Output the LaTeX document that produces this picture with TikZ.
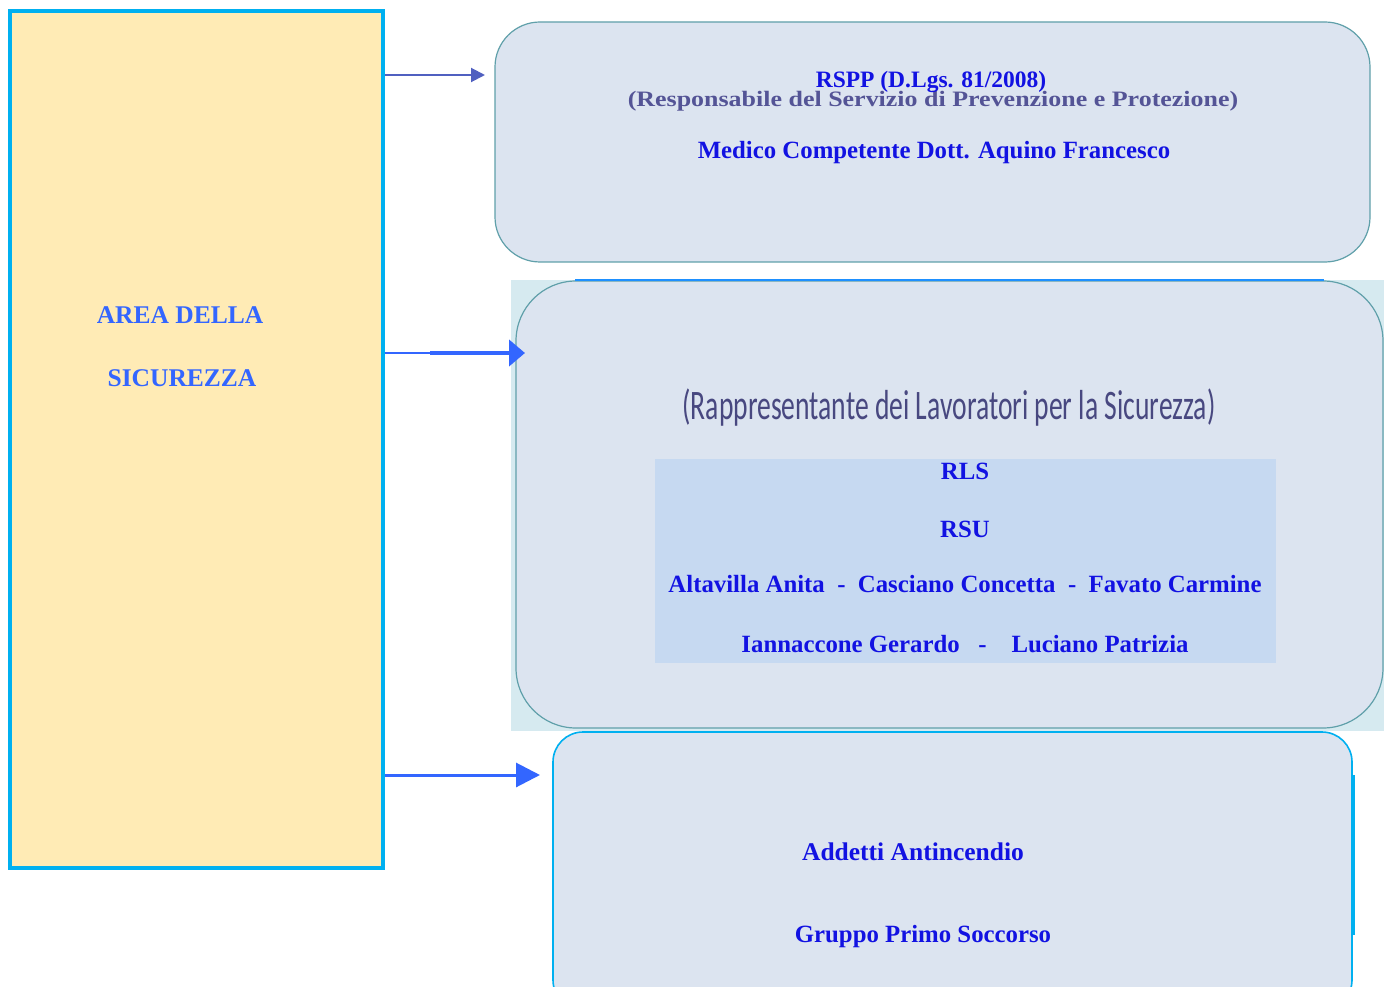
\documentclass[tikz,border=0pt]{standalone}
\usepackage{fontspec}
\setmainfont{Liberation Serif}
\newfontfamily\carl{Carlito}
\usepackage{graphicx}
\usetikzlibrary{arrows.meta}
\definecolor{tblue}{RGB}{18,18,226}
\definecolor{ablue}{RGB}{51,102,255}
\definecolor{slateb}{RGB}{80,96,192}
\definecolor{grayb}{RGB}{84,84,150}
\definecolor{rapc}{RGB}{72,72,128}
\definecolor{boxfill}{RGB}{220,228,240}
\definecolor{innerfill}{RGB}{198,217,241}
\definecolor{midbg}{RGB}{214,234,240}
\definecolor{yel}{RGB}{255,235,181}
\definecolor{cyanb}{RGB}{0,176,240}
\definecolor{tealb}{RGB}{96,160,170}
\definecolor{topblue}{RGB}{30,144,255}
\begin{document}
\begin{tikzpicture}[x=1pt,y=-1pt,
  txt/.style={font=\bfseries\fontsize{24.8}{28}\selectfont, text=tblue, inner sep=0pt},
  areatxt/.style={font=\bfseries\fontsize{25.5}{29}\selectfont, text=ablue, inner sep=0pt},
  rbox/.style={draw=tealb, line width=1.2pt, fill=boxfill},
  arrA/.style={-{Triangle[length=14pt,width=14pt]}, draw=slateb, fill=slateb, line width=2pt},
  arrB/.style={-{Triangle[length=16pt,width=26pt]}, draw=ablue, fill=ablue, line width=4pt},
  arrC/.style={-{Triangle[length=24pt,width=24pt]}, draw=ablue, fill=ablue, line width=3pt}]
\clip (0,0) rectangle (1393,987);
\fill[white] (0,0) rectangle (1393,987);

% left area box
\node[draw=cyanb, line width=4pt, fill=yel, minimum width=373pt, minimum height=857pt, inner sep=0pt] (area) at (196.5,439.5) {};
\node[areatxt] (area1) at (180,315) {AREA DELLA};
\node[areatxt] (area2) at (182,378) {SICUREZZA};

% top box
\node[rbox, rounded corners=45pt, minimum width=875pt, minimum height=240pt, inner sep=0pt] (rspp) at (932.5,142) {};
\node[font=\bfseries\fontsize{22}{25}\selectfont, text=grayb, inner sep=0pt] (resp) at (933,101) {\scalebox{1.18}[1]{(Responsabile del Servizio di Prevenzione e Protezione)}};
\node[font=\bfseries\fontsize{23.5}{26}\selectfont, text=tblue, inner sep=0pt] (rsppt) at (931,82) {RSPP (D.Lgs. 81/2008)};
\node[txt] (medico) at (934,153) {Medico Competente Dott. Aquino Francesco};

% middle box
\node[fill=midbg, minimum width=873pt, minimum height=451pt, inner sep=0pt] (rlsbg) at (947.5,505.5) {};
\node[rbox, rounded corners=60pt, minimum width=867pt, minimum height=447pt, inner sep=0pt] (rls) at (949.5,504.5) {};
\draw[topblue, line width=2pt] ([xshift=60pt]rls.north west) -- ([xshift=-60pt]rls.north east);
\node[font=\carl\fontsize{42}{46}\selectfont, text=rapc, inner sep=0pt] (rapp) at (949,408) {\scalebox{0.657}[1]{(Rappresentante dei Lavoratori per la Sicurezza)}};
\node[fill=innerfill, minimum width=621pt, minimum height=204pt, inner sep=0pt] (inner) at (965.5,561) {};
\node[txt] (rlst) at (965,471) {RLS};
\node[txt] (rsut) at (965,529) {RSU};
\node[txt] (names1) at (965,584) {Altavilla Anita~~-~~Casciano Concetta~~-~~Favato Carmine};
\node[txt] (names2) at (965,644) {Iannaccone Gerardo~~~-~~~~Luciano Patrizia};

% bottom box
\draw[cyanb, line width=4pt] (1353,775) -- (1353,935);
\node[draw=cyanb, line width=1.6pt, fill=boxfill, rounded corners=30pt, minimum width=799pt, minimum height=278pt, inner sep=0pt] (squadre) at (952.5,871) {};
\node[txt, font=\bfseries\fontsize{25.5}{29}\selectfont] (addetti) at (913,852) {Addetti Antincendio};
\node[txt] (gruppo) at (923,937) {Gruppo Primo Soccorso};

% connectors
\coordinate (t1) at (485,75);
\draw[arrA] (area.east |- t1) -- (t1);
\coordinate (m2) at (430,353);
\coordinate (t2) at (525,353);
\draw[ablue, line width=2pt] (area.east |- t2) -- (m2);
\draw[arrB] (m2) -- (t2);
\coordinate (t3) at (540,775);
\draw[arrC] (area.east |- t3) -- (t3);
\end{tikzpicture}
\end{document}
